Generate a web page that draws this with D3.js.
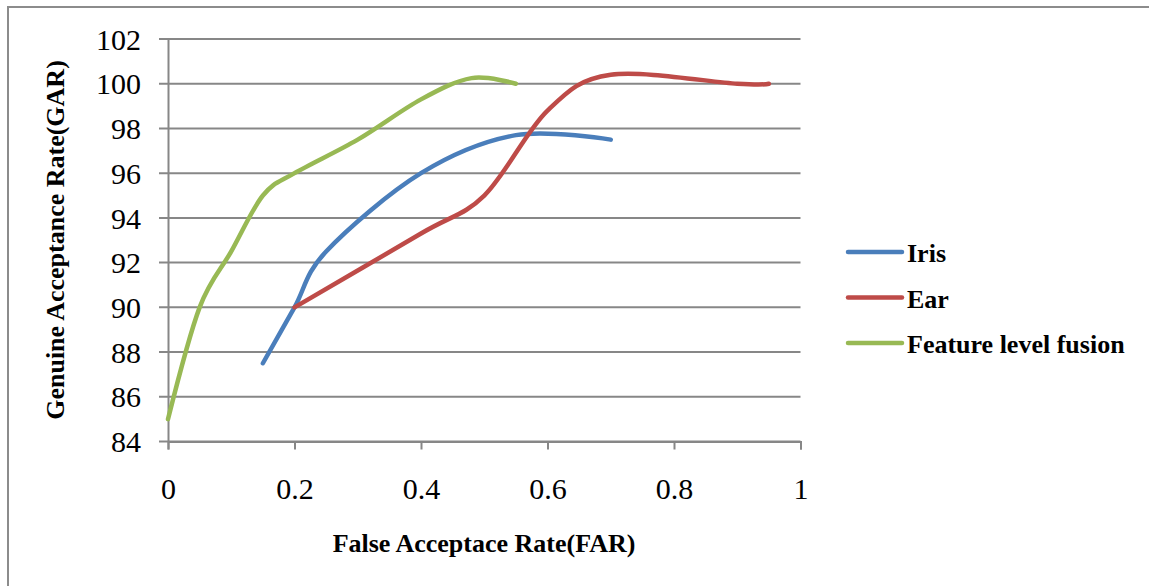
<!DOCTYPE html>
<html>
<head>
<meta charset="utf-8">
<style>
    body { margin: 0; background: #fff; }
    text { font-family: "Liberation Serif", "Times New Roman", serif; fill: #000; }
    .tick-label { font-size: 30px; }
    .title { font-size: 26px; font-weight: bold; }
    .legend-label { font-size: 26px; font-weight: bold; }
</style>
</head>
<body>
<svg width="1149" height="586"></svg>

<script src="https://d3js.org/d3.v7.min.js"></script>
<script>
    // values
    const xTicks = [0, 0.2, 0.4, 0.6, 0.8, 1];
    const yTicks = [84, 86, 88, 90, 92, 94, 96, 98, 100, 102];

    const irisFar = [0.15, 0.2, 0.25, 0.4, 0.55, 0.7];
    const irisGar = [87.5, 90, 92.5, 96, 97.7, 97.5];

    const earFar = [0.2, 0.4, 0.5, 0.6, 0.7, 0.9, 0.95];
    const earGar = [90, 93.3, 95, 98.8, 100.4, 100, 100];

    const fusionFar = [0, 0.05, 0.1, 0.15, 0.2, 0.3, 0.4, 0.48, 0.55];
    const fusionGar = [85, 90, 92.5, 95, 96, 97.5, 99.3, 100.25, 100];

    const seriesNames = ["Iris", "Ear", "Feature level fusion"];
    const seriesColors = ["#4a7ebb", "#be4b48", "#98b954"];

    let series = [
        { name: seriesNames[0], color: seriesColors[0], x: irisFar, y: irisGar },
        { name: seriesNames[1], color: seriesColors[1], x: earFar, y: earGar },
        { name: seriesNames[2], color: seriesColors[2], x: fusionFar, y: fusionGar }
    ];

    let svg = d3.select("svg");

    // outer frame (only left and top are visible in the picture)
    svg.append("rect")
        .attr("x", 8).attr("y", 7)
        .attr("width", 1160).attr("height", 600)
        .style("fill", "none")
        .style("stroke", "#8c8c8c")
        .style("stroke-width", 2);

    let x = d3.scaleLinear().domain([0, 1]).range([168, 800.5]);
    let y = d3.scaleLinear().domain([84, 102]).range([441.5, 39]);

    // horizontal grid
    svg.append("g")
        .selectAll("line")
        .data(yTicks)
        .join("line")
        .attr("x1", x(0) - 9)
        .attr("x2", x(1))
        .attr("y1", d => y(d))
        .attr("y2", d => y(d))
        .style("stroke", "#878787")
        .style("stroke-width", 2);

    // x axis
    let xAxis = svg.append("g")
        .attr("transform", `translate(0,${y(84)})`)
        .call(d3.axisBottom(x).tickValues(xTicks).tickSize(8).tickPadding(28).tickFormat(d3.format("")));
    xAxis.select(".domain").style("stroke", "#878787").style("stroke-width", 2);
    xAxis.selectAll(".tick line").style("stroke", "#878787").style("stroke-width", 2);
    xAxis.selectAll("text")
        .attr("class", "tick-label")
        .attr("font-family", null).attr("font-size", null);

    // y axis
    let yAxis = svg.append("g")
        .attr("transform", `translate(${x(0)},0)`)
        .call(d3.axisLeft(y).tickValues(yTicks).tickSize(0).tickPadding(27));
    yAxis.select(".domain").style("stroke", "#878787").style("stroke-width", 2);
    yAxis.selectAll("text")
        .attr("class", "tick-label")
        .attr("font-family", null).attr("font-size", null)
        .attr("dy", "0.34em");

    // axis titles
    svg.append("text")
        .attr("class", "title")
        .attr("x", 484)
        .attr("y", 552)
        .attr("text-anchor", "middle")
        .text("False Acceptace Rate(FAR)");

    svg.append("text")
        .attr("class", "title")
        .attr("transform", "translate(64,240) rotate(-90)")
        .attr("text-anchor", "middle")
        .text("Genuine Acceptance Rate(GAR)");

    // smoothed lines
    let line = d3.line()
        .x(d => x(d[0]))
        .y(d => y(d[1]))
        .curve(d3.curveCardinal.tension(0));

    svg.append("g")
        .selectAll("path")
        .data(series)
        .join("path")
        .attr("d", s => line(s.x.map((v, i) => [v, s.y[i]])))
        .style("fill", "none")
        .style("stroke", s => s.color)
        .style("stroke-width", 4.5)
        .style("stroke-linecap", "round")
        .style("stroke-linejoin", "round");

    // legend
    let legend = svg.append("g")
        .selectAll("g")
        .data(series)
        .join("g")
        .attr("transform", (d, i) => `translate(848,${252 + i * 45.5})`);

    legend.append("line")
        .attr("x1", 0).attr("x2", 54)
        .attr("y1", 0).attr("y2", 0)
        .style("stroke", d => d.color)
        .style("stroke-width", 4.5)
        .style("stroke-linecap", "round");

    legend.append("text")
        .attr("class", "legend-label")
        .attr("x", 59)
        .attr("y", 10)
        .text(d => d.name);
</script>
</body>
</html>
